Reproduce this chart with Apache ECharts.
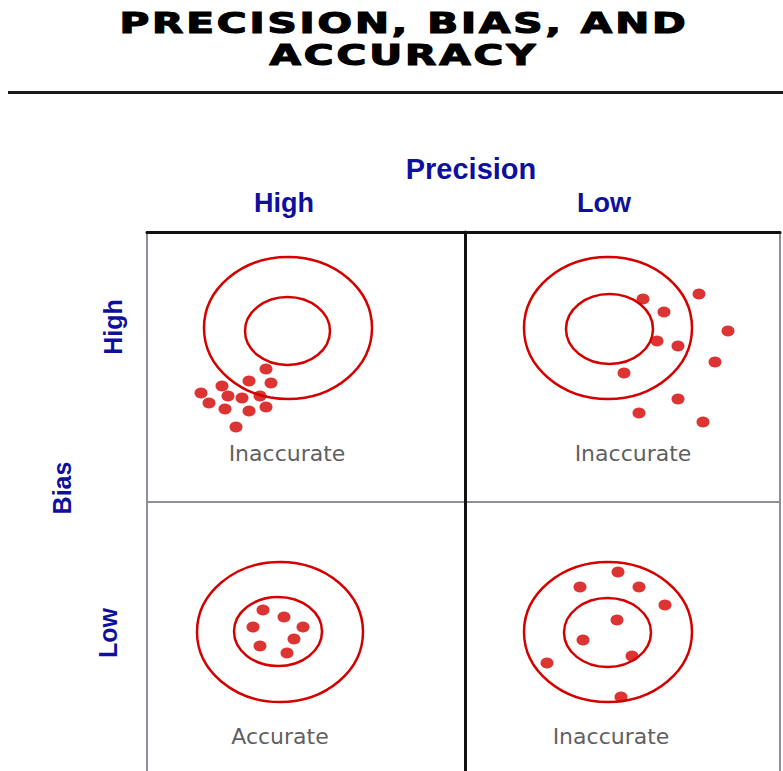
<!DOCTYPE html>
<html>
<head>
<meta charset="utf-8">
<script src="https://cdn.jsdelivr.net/npm/echarts@6/dist/echarts.min.js"></script>
<style>
    html, body { margin: 0; padding: 0; background: #fff; }
    #chart { width: 783px; height: 771px; }
    /* heading is set wide, like the original slide */
    #chart text[style*="900"] {
        letter-spacing: 2px;
        transform: scaleX(1.45);
        transform-box: fill-box;
        transform-origin: center;
    }
</style>
</head>
<body>
<div id="chart"></div>
<script>
// quadrants in order: top-left, top-right, bottom-left, bottom-right
// cell units are pixels inside each cell, y measured downward
const precisionLevels = ['High', 'Low'];
const biasLevels = ['High', 'Low'];
const verdicts = ['Inaccurate', 'Inaccurate', 'Accurate', 'Inaccurate'];
const verdictAt = [[140, 221], [168, 221], [133, 234], [146, 234]];

// [cx, cy, rx, ry]
const outerRings = [[141, 96, 84, 71], [143, 96, 84, 71], [133, 130, 83, 70], [143, 130, 84, 70]];
const innerRings = [[140.5, 99, 42.5, 34], [144.5, 97, 43.5, 35], [131, 129.5, 44, 34.5], [142.5, 130.5, 43.5, 34.5]];

const hitsHighBiasHighPrec = [
    [119, 137], [102, 149], [124, 151], [75, 154], [54, 161], [81, 164], [95, 166],
    [113, 164], [62, 171], [78, 177], [102, 179], [119, 175], [89, 195]
];
const hitsHighBiasLowPrec = [
    [178, 67], [234, 62], [199, 80], [263, 99], [192, 109], [213, 114],
    [250, 130], [159, 141], [213, 167], [174, 181], [238, 190]
];
const hitsLowBiasHighPrec = [
    [116, 108], [137, 115], [106, 125], [156, 125], [147, 137], [113, 144], [140, 151]
];
const hitsLowBiasLowPrec = [
    [153, 70], [115, 85], [174, 85], [200, 103], [152, 118], [118, 138],
    [167, 154], [82, 161], [156, 195]
];
const hits = [hitsHighBiasHighPrec, hitsHighBiasLowPrec, hitsLowBiasHighPrec, hitsLowBiasLowPrec];

const cellW = [318, 315, 318, 315];
const cellH = [270, 270, 279, 279];

const blue = '#0f0f9e';
const red = '#d40000';
const labelFont = { fontFamily: 'Liberation Sans', fontWeight: 'bold', fill: blue };

const grids = [
    { left: 147, top: 232, width: 318, height: 270 },
    { left: 465, top: 232, width: 315, height: 270 },
    { left: 147, top: 502, width: 318, height: 279 },
    { left: 465, top: 502, width: 315, height: 279 }
].map(g => Object.assign(g, {
    show: true, borderColor: '#8e8e98', borderWidth: 2, outerBoundsMode: 'none'
}));

const darkLine = { show: true, lineStyle: { color: '#111', width: 3 } };

const xAxes = grids.map((g, i) => ({
    type: 'value', gridIndex: i, min: 0, max: cellW[i], position: 'top',
    axisLine: i < 2 ? darkLine : { show: false },
    axisTick: { show: false }, axisLabel: { show: false }, splitLine: { show: false }
}));
const yAxes = grids.map((g, i) => ({
    type: 'value', gridIndex: i, min: 0, max: cellH[i], inverse: true, position: 'left',
    axisLine: i % 2 === 1 ? darkLine : { show: false },
    axisTick: { show: false }, axisLabel: { show: false }, splitLine: { show: false }
}));

function ring(params, api) {
    const c = api.coord([api.value(0), api.value(1)]);
    const s = api.size([api.value(2), api.value(3)]);
    return {
        type: 'ellipse',
        shape: { cx: c[0], cy: c[1], rx: s[0], ry: s[1] },
        style: { fill: 'none', stroke: red, lineWidth: 2.5 }
    };
}

const series = [];
for (let i = 0; i < 4; i++) {
    series.push({
        type: 'custom', xAxisIndex: i, yAxisIndex: i, clip: false, silent: true,
        renderItem: ring, encode: { x: 0, y: 1 },
        data: [outerRings[i], innerRings[i]]
    });
    series.push({
        type: 'scatter', xAxisIndex: i, yAxisIndex: i, symbol: 'circle', symbolSize: [13, 11],
        itemStyle: { color: '#d30000' }, silent: true, z: 3,
        data: hits[i]
    });
    series.push({
        type: 'scatter', xAxisIndex: i, yAxisIndex: i, symbolSize: 1, silent: true,
        itemStyle: { color: 'rgba(0,0,0,0)' },
        label: {
            show: true, position: 'inside', formatter: verdicts[i],
            fontFamily: 'DejaVu Sans', fontSize: 22, color: '#333'
        },
        data: [verdictAt[i]]
    });
}

const chart = echarts.init(document.getElementById('chart'), null, { renderer: 'svg' });
chart.setOption({
    animation: false,
    grid: grids,
    xAxis: xAxes,
    yAxis: yAxes,
    series: series,
    graphic: [
        {
            type: 'text',
            style: {
                x: 404, y: 39,
                text: 'PRECISION, BIAS, AND\nACCURACY', align: 'center', verticalAlign: 'middle',
                fontFamily: 'DejaVu Sans', fontWeight: 900, fontSize: 28, lineHeight: 32,
                fill: '#000', stroke: '#000', lineWidth: 1.2
            }
        },
        { type: 'rect', shape: { x: 8, y: 91, width: 775, height: 3 }, style: { fill: '#1a1a1a' } },
        {
            type: 'text', x: 471, y: 169,
            style: Object.assign({ text: 'Precision', align: 'center', verticalAlign: 'middle', fontSize: 29 }, labelFont)
        },
        {
            type: 'text', x: 284, y: 203,
            style: Object.assign({ text: precisionLevels[0], align: 'center', verticalAlign: 'middle', fontSize: 27 }, labelFont)
        },
        {
            type: 'text', x: 604, y: 203,
            style: Object.assign({ text: precisionLevels[1], align: 'center', verticalAlign: 'middle', fontSize: 27 }, labelFont)
        },
        {
            type: 'text', x: 113, y: 327, rotation: Math.PI / 2,
            style: Object.assign({ text: biasLevels[0], align: 'center', verticalAlign: 'middle', fontSize: 25 }, labelFont)
        },
        {
            type: 'text', x: 62, y: 488, rotation: Math.PI / 2,
            style: Object.assign({ text: 'Bias', align: 'center', verticalAlign: 'middle', fontSize: 25 }, labelFont)
        },
        {
            type: 'text', x: 108, y: 633, rotation: Math.PI / 2,
            style: Object.assign({ text: biasLevels[1], align: 'center', verticalAlign: 'middle', fontSize: 25 }, labelFont)
        }
    ]
});
</script>
</body>
</html>
